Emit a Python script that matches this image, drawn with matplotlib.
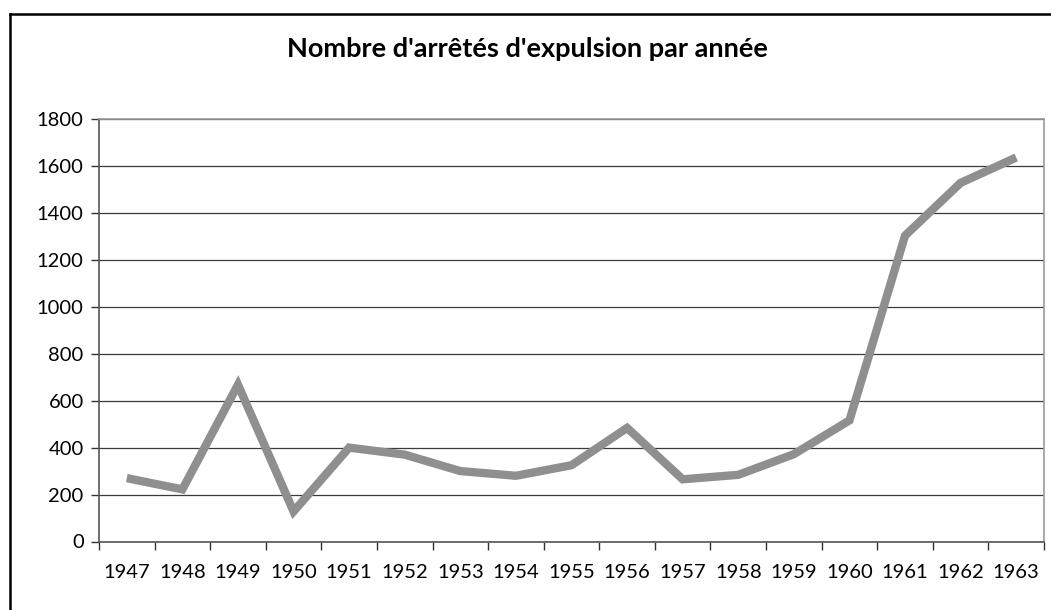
import matplotlib.pyplot as plt
from matplotlib.lines import Line2D

# Arrêtés d'expulsion par année
annees = ['1947', '1948', '1949', '1950', '1951', '1952', '1953', '1954', '1955',
          '1956', '1957', '1958', '1959', '1960', '1961', '1962', '1963']
arretes = [270, 222, 668, 128, 400, 370, 300, 280, 325,
           484, 265, 284, 372, 516, 1303, 1528, 1636]

plt.rcParams['font.family'] = ['Lato', 'DejaVu Sans']

W, H = 1051, 610
fig = plt.figure(figsize=(W / 100, H / 100), dpi=100)

# cadre du graphique (haut et gauche)
fig.add_artist(Line2D([9.5 / W, 1], [1 - 14 / H, 1 - 14 / H], color='black', lw=1.8,
                      transform=fig.transFigure))
fig.add_artist(Line2D([9.5 / W, 9.5 / W], [0, 1 - 14 / H], color='black', lw=1.8,
                      transform=fig.transFigure))

ax = fig.add_axes([99 / W, 1 - 541.5 / H, (1044 - 99) / W, (541.5 - 119) / H])

x = range(len(annees))
ax.plot(x, arretes, color='#8f8f8f', lw=6, solid_joinstyle='miter',
        solid_capstyle='butt', zorder=3)

ax.set_xlim(-0.5, len(annees) - 0.5)
ax.set_ylim(0, 1800)
ax.set_yticks(range(0, 1801, 200))
ax.set_xticks(list(x))
ax.set_xticklabels(annees)
ax.set_xticks([i - 0.5 for i in range(len(annees) + 1)], minor=True)

ax.grid(axis='y', color='#3a3a3a', lw=0.9)
ax.set_axisbelow(True)

for s in ['top', 'right']:
    ax.spines[s].set_color('#9a9a9a')
    ax.spines[s].set_linewidth(1.2)
for s in ['left', 'bottom']:
    ax.spines[s].set_color('#555555')
    ax.spines[s].set_linewidth(1.2)

ax.tick_params(axis='x', which='major', length=0, pad=16, labelsize=14.5)
ax.tick_params(axis='x', which='minor', length=6, color='#333333', width=1)
ax.tick_params(axis='y', length=6, color='#333333', width=1, labelsize=14.5, pad=5)

fig.text(0.502, 1 - 49 / H, "Nombre d'arrêtés d'expulsion par année",
         ha='center', va='center', fontsize=19.5, fontweight='bold')

fig.savefig('out.png', dpi=100)
